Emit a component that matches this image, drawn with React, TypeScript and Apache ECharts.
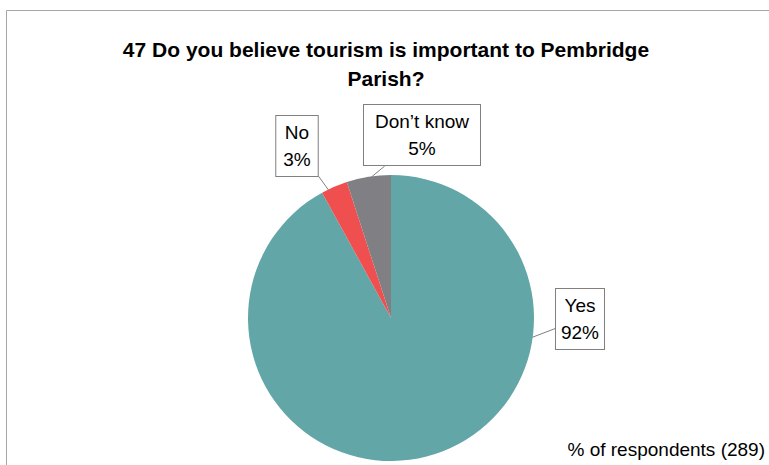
import React, { useEffect, useRef } from "react";
import * as echarts from "echarts";

const categories = ["Yes", "No", "Don\u2019t know"];
const values = [92, 3, 5];
const colors = ["#63A6A7", "#EF4F4E", "#808084"];
const titleText = "47 Do you believe tourism is important to Pembridge\nParish?";
const noteText = "% of respondents (289)";

// layout constants
const CX = 391;
const CY = 318;
const R = 143;
const labelPos = [
  { x: 580, y: 319 },
  { x: 297, y: 146 },
  { x: 422, y: 135 },
];
const labelPad = [
  [3, 5, 3, 5],
  [3, 7, 3, 7],
  [3, 11, 3, 11],
];

// slice angular ranges (degrees clockwise from 12 o'clock) derived from the data
const total = values.reduce((a, b) => a + b, 0);
const ranges: number[][] = [];
{
  let acc = 0;
  values.forEach((v) => {
    const a0 = (acc / total) * 360;
    acc += v;
    ranges.push([a0, (acc / total) * 360]);
  });
}

function pointerPoints(i: number, w: number, h: number) {
  const c = labelPos[i];
  let ang = (Math.atan2(c.x - CX, -(c.y - CY)) * 180) / Math.PI;
  if (ang < 0) ang += 360;
  const [a0, a1] = ranges[i];
  const m = (a1 - a0) * 0.3;
  ang = Math.min(Math.max(ang, a0 + m), a1 - m);
  const rad = (ang * Math.PI) / 180;
  const rr = R * 0.95;
  const tip = [CX + rr * Math.sin(rad), CY - rr * Math.cos(rad)];
  const dx = tip[0] - c.x;
  const dy = tip[1] - c.y;
  const t = Math.min(
    dx !== 0 ? w / 2 / Math.abs(dx) : Infinity,
    dy !== 0 ? h / 2 / Math.abs(dy) : Infinity
  );
  const end = [c.x + dx * t, c.y + dy * t];
  const mid = [(tip[0] + end[0]) / 2, (tip[1] + end[1]) / 2];
  return [tip, mid, end];
}

export default function App() {
  const ref = useRef<HTMLDivElement>(null);
  useEffect(() => {
    document.body.style.margin = "0";
    const chart = echarts.init(ref.current!, null, { renderer: "svg" });
    chart.setOption({
      animation: false,
      backgroundColor: "#ffffff",
      title: {
        text: titleText,
        left: 381,
        textAlign: "center",
        top: 30,
        textStyle: {
          fontFamily: "Liberation Sans",
          fontWeight: "bold",
          fontSize: 21,
          color: "#000",
          lineHeight: 29,
        },
      },
      graphic: [
        {
          type: "rect",
          shape: { x: 6.5, y: 10.5, width: 800, height: 500 },
          style: { fill: "none", stroke: "#A6A6A6", lineWidth: 1 },
          silent: true,
        },
        {
          type: "text",
          right: 4,
          bottom: 6,
          style: {
            text: noteText,
            font: "19px 'Liberation Sans'",
            fill: "#000",
          },
        },
      ],
      series: [
        {
          type: "pie",
          center: [CX, CY],
          radius: R,
          startAngle: 90,
          clockwise: true,
          data: categories.map((c, i) => ({
            name: c,
            value: values[i],
            itemStyle: { color: colors[i] },
            label: { padding: labelPad[i] },
          })),
          label: {
            show: true,
            position: "outside",
            formatter: "{b}\n{c}%",
            fontFamily: "Liberation Sans",
            fontSize: 19,
            lineHeight: 27,
            color: "#000",
            align: "center",
            backgroundColor: "#fff",
            borderColor: "#808080",
            borderWidth: 1,
          },
          labelLine: {
            show: true,
            length: 8,
            length2: 8,
            lineStyle: { color: "#808080", width: 1 },
          },
          labelLayout: (p: any) => {
            const i = p.dataIndex;
            const pos = labelPos[i];
            const w = p.labelRect.width;
            const h = p.labelRect.height;
            return {
              x: pos.x,
              y: pos.y,
              align: "center",
              verticalAlign: "middle",
              labelLinePoints: pointerPoints(i, w, h),
            };
          },
        },
      ],
    });
    return () => chart.dispose();
  }, []);
  return <div ref={ref} style={{ width: 769, height: 465 }} />;
}
